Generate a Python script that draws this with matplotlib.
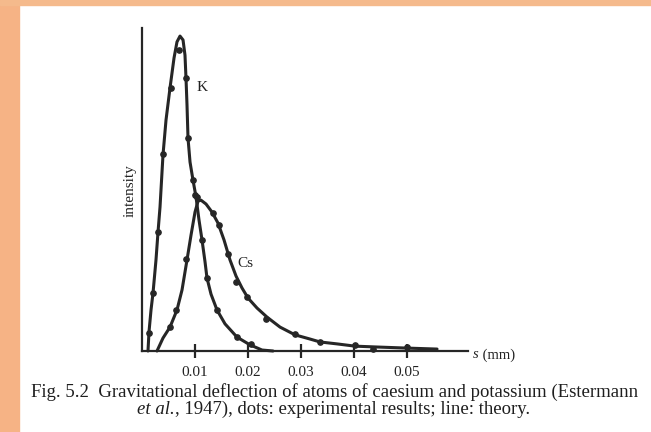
import matplotlib
matplotlib.use("Agg")
import matplotlib.pyplot as plt
from matplotlib.patches import Rectangle

plt.rcParams['font.family'] = ['Liberation Serif', 'DejaVu Serif']

# theory curves, s in mm, intensity in arbitrary units
k_s = [0.00113, 0.00132, 0.00170, 0.00208, 0.00264, 0.00302, 0.00340, 0.00396,
       0.00453, 0.00528, 0.00604, 0.00660, 0.00717, 0.00774, 0.00811, 0.00830,
       0.00849, 0.00868, 0.00906, 0.00962, 0.01019, 0.01075, 0.01132, 0.01189,
       0.01226, 0.01302, 0.01415, 0.01566, 0.01792, 0.02038, 0.02264, 0.02472]
k_i = [0.0, 0.059, 0.127, 0.180, 0.282, 0.368, 0.446, 0.607,
       0.715, 0.814, 0.907, 0.957, 0.975, 0.963, 0.916, 0.845,
       0.762, 0.659, 0.585, 0.529, 0.477, 0.406, 0.344, 0.276,
       0.226, 0.176, 0.127, 0.084, 0.043, 0.019, 0.003, 0.0]

cs_s = [0.00283, 0.00396, 0.00528, 0.00660, 0.00755, 0.00849, 0.00925, 0.01000,
        0.01057, 0.01113, 0.01208, 0.01321, 0.01434, 0.01547, 0.01660, 0.01774,
        0.01887, 0.02000, 0.02170, 0.02358, 0.02604, 0.02887, 0.03170, 0.03358,
        0.03679, 0.04019, 0.04491, 0.05000, 0.05566]
cs_i = [0.0, 0.040, 0.074, 0.127, 0.189, 0.282, 0.359, 0.430,
        0.464, 0.467, 0.455, 0.430, 0.396, 0.344, 0.282, 0.232,
        0.195, 0.164, 0.133, 0.105, 0.074, 0.050, 0.037, 0.028,
        0.022, 0.015, 0.012, 0.009, 0.006]

# experimental dots
k_dot_s = [0.00132, 0.00208, 0.00302, 0.00396, 0.00547, 0.00698, 0.00830, 0.00868,
           0.00962, 0.01000, 0.01132, 0.01226, 0.01415, 0.01792, 0.02057]
k_dot_i = [0.056, 0.180, 0.368, 0.610, 0.814, 0.932, 0.845, 0.659,
           0.529, 0.483, 0.344, 0.226, 0.127, 0.043, 0.022]

cs_dot_s = [0.00528, 0.00642, 0.00830, 0.01038, 0.01340, 0.01453, 0.01623, 0.01774,
            0.01981, 0.02340, 0.02887, 0.03358, 0.04019, 0.04358, 0.05000]
cs_dot_i = [0.074, 0.127, 0.285, 0.477, 0.427, 0.390, 0.300, 0.214,
            0.167, 0.099, 0.053, 0.028, 0.019, 0.006, 0.012]

ticks = [0.01, 0.02, 0.03, 0.04, 0.05]
tick_labels = ['0.01', '0.02', '0.03', '0.04', '0.05']

W, H = 651, 432
ink = '#262626'

fig = plt.figure(figsize=(W / 100, H / 100), dpi=100)
fig.patch.set_facecolor('white')
# orange frame of the slide
fig.patches.append(Rectangle((0, 0), 19 / W, 1, transform=fig.transFigure,
                             color='#F6B385', zorder=0))
fig.patches.append(Rectangle((0, 1 - 5 / H), 1, 5 / H, transform=fig.transFigure,
                             color='#F5BA8C', zorder=0))

ax = fig.add_axes([142 / W, (H - 351) / H, (468 - 142) / W, (351 - 28) / H])
ax.set_xlim(0, 0.0615)
ax.set_ylim(0, 1.0)
ax.patch.set_alpha(0)
for side in ['top', 'right']:
    ax.spines[side].set_visible(False)
for side in ['left', 'bottom']:
    ax.spines[side].set_color(ink)
    ax.spines[side].set_linewidth(1.6)

ax.plot(k_s, k_i, color=ink, lw=2.2, clip_on=False, solid_capstyle='round')
ax.plot(cs_s, cs_i, color=ink, lw=2.2, clip_on=False, solid_capstyle='round')
ax.plot(k_dot_s, k_dot_i, 'o', color=ink, ms=3.8, clip_on=False)
ax.plot(cs_dot_s, cs_dot_i, 'o', color=ink, ms=3.8, clip_on=False)

ax.set_xticks(ticks)
ax.set_xticklabels(tick_labels)
ax.tick_params(axis='x', direction='inout', length=10, width=1.6, color=ink,
               labelsize=11, pad=6, labelcolor='#222222')
ax.set_yticks([])

ax.text(0.01132, 0.817, 'K', fontsize=11, ha='center', va='center', color='#222222')
ax.text(0.01943, 0.272, 'Cs', fontsize=11, ha='center', va='center', color='#222222')

fig.text(130 / W, 1 - 191 / H, 'intensity', rotation=90, fontsize=11,
         ha='center', va='center', color='#222222')

s_lab = fig.text(473 / W, 1 - 355 / H, 's', style='italic', fontsize=10.5,
                 ha='left', va='center', color='#222222')
ax.annotate(' (mm)', xy=(1, 0), xycoords=s_lab, va='bottom', fontsize=10.5,
            color='#222222', annotation_clip=False)

fig.text(335 / W, 1 - 392 / H,
         'Fig. 5.2  Gravitational deflection of atoms of caesium and potassium (Estermann',
         fontsize=13.5, ha='center', va='center', color='#1e1e1e')
cap2 = fig.text(137 / W, 1 - 410 / H, 'et al.', style='italic', fontsize=13.5,
                ha='left', va='center', color='#1e1e1e')
ax.annotate(', 1947), dots: experimental results; line: theory.', xy=(1, 0),
            xycoords=cap2, va='bottom', fontsize=13.5, color='#1e1e1e',
            annotation_clip=False)

fig.savefig('out.png', dpi=100)
